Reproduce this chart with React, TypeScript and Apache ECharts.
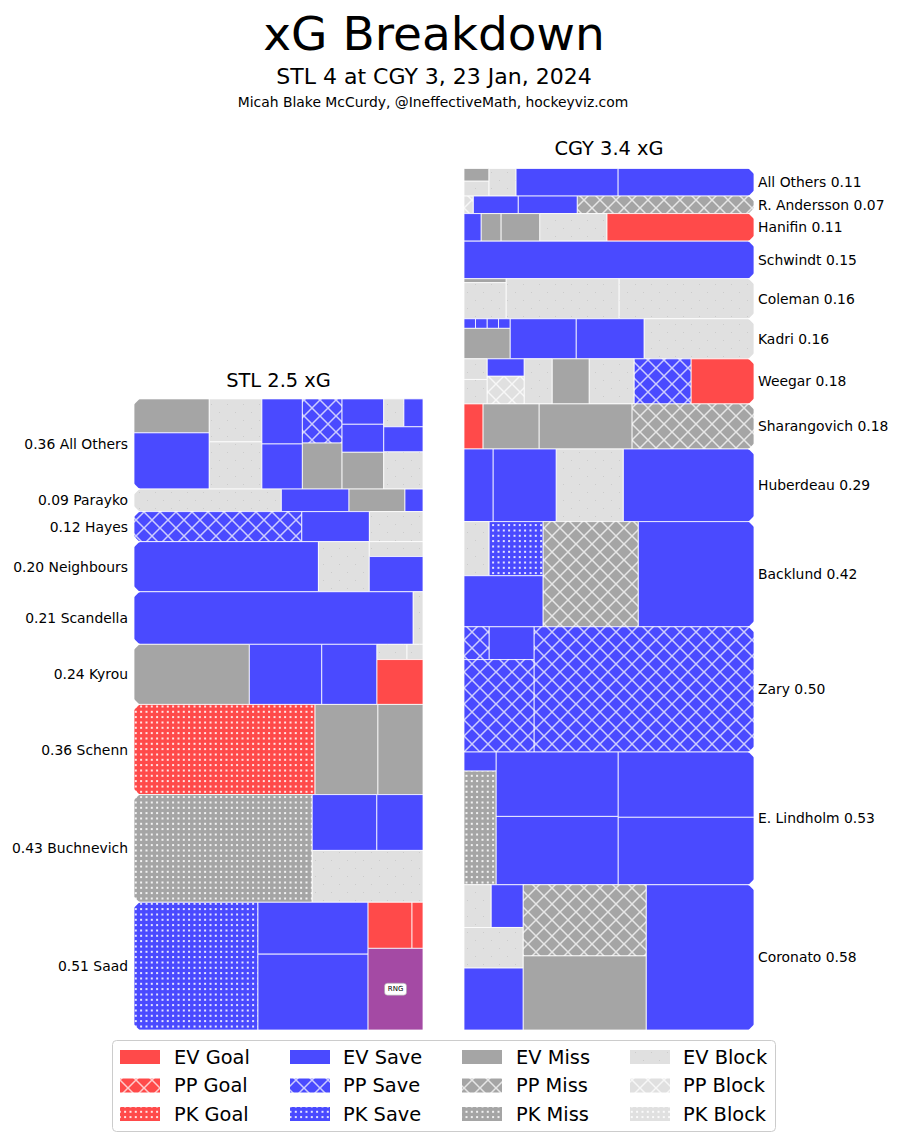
import React, { useEffect, useRef } from "react";
import * as echarts from "echarts";

// ---------- data ----------
const stlPlayers = ["All Others", "Parayko", "Hayes", "Neighbours", "Scandella", "Kyrou", "Schenn", "Buchnevich", "Saad"];
const stlXG = [0.36, 0.09, 0.12, 0.2, 0.21, 0.24, 0.36, 0.43, 0.51];
// strips: ["c" = column / "r" = row, [shotType, xG], ...]
const stlShots: any[] = [
  [["c", ["EM", 0.035], ["ES", 0.058]], ["c", ["EB", 0.031], ["EB", 0.034]], ["c", ["ES", 0.025], ["ES", 0.025]], ["c", ["PS", 0.024], ["EM", 0.025]], ["c", ["ES", 0.0145], ["ES", 0.016], ["EM", 0.021]], ["r", ["EB", 0.0077], ["ES", 0.0073]], ["r", ["ES", 0.0135]], ["r", ["EB", 0.02]]],
  [["c", ["EB", 0.049]], ["c", ["ES", 0.0225]], ["c", ["EM", 0.0186]], ["c", ["ES", 0.006]]],
  [["c", ["PS", 0.072]], ["c", ["ES", 0.029]], ["c", ["EB", 0.023]]],
  [["c", ["ES", 0.127]], ["c", ["EB", 0.035]], ["c", ["EB", 0.011], ["ES", 0.026]]],
  [["c", ["ES", 0.2]], ["c", ["EB", 0.007]]],
  [["c", ["EM", 0.094]], ["c", ["ES", 0.059]], ["c", ["ES", 0.045]], ["r", ["EB", 0.0062], ["EB", 0.0033]], ["r", ["EG", 0.028]]],
  [["c", ["KG", 0.2275]], ["c", ["EM", 0.079]], ["c", ["EM", 0.0566]]],
  [["c", ["KM", 0.2606]], ["r", ["ES", 0.049], ["ES", 0.035]], ["r", ["EB", 0.078]]],
  [["c", ["KS", 0.219]], ["c", ["ES", 0.079], ["ES", 0.1155]], ["r", ["EG", 0.028], ["EG", 0.007]], ["r", ["RNG", 0.062]]],
];

const cgyPlayers = ["All Others", "R. Andersson", "Hanifin", "Schwindt", "Coleman", "Kadri", "Weegar", "Sharangovich", "Huberdeau", "Backlund", "Zary", "E. Lindholm", "Coronato"];
const cgyXG = [0.11, 0.07, 0.11, 0.15, 0.16, 0.16, 0.18, 0.18, 0.29, 0.42, 0.5, 0.53, 0.58];
// mirrored: strips start from the right-hand (outer) side
const cgyShots: any[] = [
  [["c", ["ES", 0.0488]], ["c", ["ES", 0.0366]], ["c", ["EB", 0.0097]], ["c", ["EM", 0.0041], ["EB", 0.0048]]],
  [["c", ["PM", 0.0464]], ["c", ["ES", 0.0155]], ["c", ["ES", 0.0118]], ["c", ["PB", 0.0024]]],
  [["c", ["EG", 0.057]], ["c", ["EB", 0.026]], ["c", ["EM", 0.015]], ["c", ["EM", 0.0077]], ["c", ["ES", 0.0066]]],
  [["c", ["ES", 0.15]]],
  [["c", ["EB", 0.0746]], ["c", ["EB", 0.0624]], ["c", ["EM", 0.0023], ["EB", 0.0209]]],
  [["c", ["EB", 0.0638]], ["c", ["ES", 0.0394]], ["c", ["ES", 0.0383]], ["r", ["ES", 0.0016], ["ES", 0.0016], ["ES", 0.0016], ["ES", 0.0016]], ["r", ["EM", 0.0203]]],
  [["c", ["EG", 0.0383]], ["c", ["PS", 0.0346]], ["c", ["EB", 0.0273]], ["c", ["EM", 0.0225]], ["c", ["EB", 0.017]], ["c", ["ES", 0.0087], ["PB", 0.0138]], ["c", ["EB", 0.0064], ["EB", 0.0076]]],
  [["c", ["PM", 0.0775]], ["c", ["EM", 0.059]], ["c", ["EM", 0.0356]], ["c", ["EG", 0.012]]],
  [["c", ["ES", 0.13]], ["c", ["EB", 0.0666]], ["c", ["ES", 0.0627]], ["c", ["ES", 0.0288]]],
  [["c", ["ES", 0.168]], ["c", ["PM", 0.138]], ["r", ["KS", 0.0403], ["EB", 0.0186]], ["r", ["ES", 0.0556]]],
  [["c", ["PS", 0.383]], ["r", ["ES", 0.0205], ["PS", 0.0114]], ["r", ["PS", 0.0899]]],
  [["c", ["ES", 0.122], ["ES", 0.126]], ["c", ["ES", 0.108], ["ES", 0.1146]], ["c", ["ES", 0.0084], ["KM", 0.05]]],
  [["c", ["ES", 0.213]], ["c", ["PM", 0.119], ["EM", 0.124]], ["r", ["ES", 0.0186], ["EB", 0.0157]], ["r", ["EB", 0.0326]], ["r", ["ES", 0.0497]]],
];

const shotTypes = ["EG", "PG", "KG", "ES", "PS", "KS", "EM", "PM", "KM", "EB", "PB", "KB", "RNG"];
const shotTypeLabels = ["EV Goal", "PP Goal", "PK Goal", "EV Save", "PP Save", "PK Save", "EV Miss", "PP Miss", "PK Miss", "EV Block", "PP Block", "PK Block"];
const teamTitles = ["STL 2.5 xG", "CGY 3.4 xG"];
const mainTitle = "xG Breakdown";
const subTitle = "STL 4 at CGY 3, 23 Jan, 2024";
const creditText = "Micah Blake McCurdy, @IneffectiveMath, hockeyviz.com";

// ---------- styling ----------
const FONT = "DejaVu Sans";
const baseColors: Record<string, string> = { G: "#ff4a4a", S: "#4a4aff", M: "#a5a5a5", B: "#e0e0e0" };

function makeFill(t: string): any {
  if (t === "RNG") return "#a44aa4";
  const bg = baseColors[t[1]];
  const c = document.createElement("canvas");
  c.width = 16;
  c.height = 16;
  const g = c.getContext("2d")!;
  g.fillStyle = bg;
  g.fillRect(0, 0, 16, 16);
  if (t[0] === "P") {
    g.strokeStyle = "rgba(255,255,255,0.72)";
    g.lineWidth = 1.5;
    g.beginPath();
    g.moveTo(0, 0);
    g.lineTo(16, 16);
    g.moveTo(16, 0);
    g.lineTo(0, 16);
    g.stroke();
  } else if (t[0] === "K") {
    g.fillStyle = "rgba(255,255,255,0.85)";
    const pos = [1.5, 6.8, 12.1];
    pos.forEach((px) => pos.forEach((py) => g.fillRect(px, py, 2, 2)));
  } else if (t === "EB") {
    g.fillStyle = "rgba(0,0,0,0.09)";
    g.fillRect(3, 4, 1, 1);
    g.fillRect(11, 12, 1, 1);
  } else {
    return bg;
  }
  return { image: c, repeat: "repeat", imageWidth: 16, imageHeight: 16 };
}

function layoutTeam(shots: any[], xgs: number[], mirror: boolean) {
  const cells: number[][] = [];
  const rows: number[][] = [];
  let top = xgs.reduce((a, b) => a + b, 0);
  xgs.forEach((xg, i) => {
    const yTop = top;
    const yBot = top - xg;
    top = yBot;
    rows.push([yBot, yTop, i]);
    const strips = shots[i];
    let total = 0;
    strips.forEach((s: any[]) => s.slice(1).forEach((c: any) => (total += c[1])));
    const k = xg / total;
    let rx0 = 0;
    const rx1 = 1;
    const ry0 = yBot;
    let ry1 = yTop;
    strips.forEach((s: any[]) => {
      const items = s.slice(1);
      const sum = items.reduce((a: number, c: any) => a + c[1], 0) * k;
      if (s[0] === "c") {
        const w = sum / (ry1 - ry0);
        let cy = ry1;
        items.forEach((c: any) => {
          const h = (c[1] * k) / w;
          cells.push([rx0, Math.min(1, rx0 + w), Math.max(ry0, cy - h), cy, shotTypes.indexOf(c[0])]);
          cy -= h;
        });
        rx0 += w;
      } else {
        const h = sum / (rx1 - rx0);
        let cx = rx0;
        items.forEach((c: any) => {
          const w = (c[1] * k) / h;
          cells.push([cx, Math.min(1, cx + w), Math.max(ry0, ry1 - h), ry1, shotTypes.indexOf(c[0])]);
          cx += w;
        });
        ry1 -= h;
      }
    });
  });
  if (mirror) cells.forEach((c) => { const a = c[0]; c[0] = 1 - c[1]; c[1] = 1 - a; });
  return { cells, rows };
}

export default function App() {
  const ref = useRef<HTMLDivElement>(null);
  useEffect(() => {
    if (!ref.current) return;
    const chart = echarts.init(ref.current, null, { renderer: "svg" });
    const fills = shotTypes.map(makeFill);
    const stl = layoutTeam(stlShots, stlXG, false);
    const cgy = layoutTeam(cgyShots, cgyXG, true);
    const yMax = cgyXG.reduce((a, b) => a + b, 0);
    const gridTop = 168.5;
    const gridH = 861.5;

    const cellSeries = (data: number[][], idx: number) => ({
      type: "custom",
      xAxisIndex: idx,
      yAxisIndex: idx,
      clip: false,
      data,
      encode: { x: [0, 1], y: [2, 3] },
      renderItem: (_p: any, api: any) => {
        const a = api.coord([api.value(0), api.value(3)]);
        const b = api.coord([api.value(1), api.value(2)]);
        const t = api.value(4);
        const rect = {
          type: "rect",
          shape: { x: a[0], y: a[1], width: b[0] - a[0], height: b[1] - a[1] },
          style: { fill: fills[t], stroke: "rgba(255,255,255,0.78)", lineWidth: 1 },
        };
        if (shotTypes[t] !== "RNG") return rect;
        const cx = (a[0] + b[0]) / 2;
        const cy = (a[1] + b[1]) / 2;
        return {
          type: "group",
          children: [
            rect,
            { type: "rect", shape: { x: cx - 11, y: cy - 6, width: 22, height: 12, r: 3 }, style: { fill: "#ffffff", stroke: "#aaaaaa", lineWidth: 0.6 } },
            { type: "text", x: cx, y: cy, style: { text: "RNG", fontSize: 7, fontFamily: FONT, fill: "#000", align: "center", verticalAlign: "middle" } },
          ],
        };
      },
    });

    const rowSeries = (rows: number[][], idx: number, names: string[], xgs: number[], mirror: boolean) => ({
      type: "custom",
      xAxisIndex: idx,
      yAxisIndex: idx,
      clip: false,
      data: rows,
      encode: { y: [0, 1] },
      renderItem: (_p: any, api: any) => {
        const i = api.value(2);
        const outer = mirror ? 1 : 0;
        const pt = api.coord([outer, api.value(1)]);
        const pb = api.coord([outer, api.value(0)]);
        const s = mirror ? -1 : 1;
        const c = 6;
        const px = pt[0];
        const yt = pt[1];
        const yb = pb[1];
        const label = mirror ? `${names[i]} ${xgs[i].toFixed(2)}` : `${xgs[i].toFixed(2)} ${names[i]}`;
        return {
          type: "group",
          children: [
            { type: "polygon", shape: { points: [[px - s * 1.5, yt - 0.5], [px + s * c, yt - 0.5], [px - s * 1.5, yt + c + 1]] }, style: { fill: "#ffffff" } },
            { type: "polygon", shape: { points: [[px - s * 1.5, yb + 0.5], [px + s * c, yb + 0.5], [px - s * 1.5, yb - c - 1]] }, style: { fill: "#ffffff" } },
            {
              type: "text",
              x: mirror ? px + 4 : px - 6,
              y: (yt + yb) / 2,
              style: { text: label, fontSize: 13.9, fontFamily: FONT, fill: "#000", align: mirror ? "left" : "right", verticalAlign: "middle" },
            },
          ],
        };
      },
    });

    const legendCols = [120, 290, 462, 630];
    const legendTextX = [174, 343, 516, 683];
    const legendRows = [1057, 1085.5, 1114];
    const legendEls: any[] = [
      { type: "rect", shape: { x: 112.5, y: 1040.5, width: 663, height: 91, r: 4 }, style: { fill: "rgba(255,255,255,0.8)", stroke: "#cccccc", lineWidth: 1 } },
    ];
    shotTypeLabels.forEach((lab, j) => {
      const col = Math.floor(j / 3);
      const row = j % 3;
      legendEls.push({ type: "rect", shape: { x: legendCols[col], y: legendRows[row] - 7, width: 40, height: 14 }, style: { fill: fills[j] } });
      legendEls.push({ type: "text", x: legendTextX[col], y: legendRows[row], style: { text: lab, fontSize: 19.4, fontFamily: FONT, fill: "#000", align: "left", verticalAlign: "middle" } });
    });

    chart.setOption({
      animation: false,
      backgroundColor: "#ffffff",
      grid: [
        { left: 134, width: 289, top: gridTop, height: gridH },
        { left: 464, width: 290, top: gridTop, height: gridH },
      ],
      xAxis: [
        { type: "value", gridIndex: 0, min: 0, max: 1, show: false },
        { type: "value", gridIndex: 1, min: 0, max: 1, show: false },
      ],
      yAxis: [
        { type: "value", gridIndex: 0, min: 0, max: yMax, show: false },
        { type: "value", gridIndex: 1, min: 0, max: yMax, show: false },
      ],
      series: [
        cellSeries(stl.cells, 0),
        cellSeries(cgy.cells, 1),
        rowSeries(stl.rows, 0, stlPlayers, stlXG, false),
        rowSeries(cgy.rows, 1, cgyPlayers, cgyXG, true),
      ],
      graphic: [
        { type: "text", x: 434, y: 33, style: { text: mainTitle, fontSize: 47, fontFamily: FONT, fill: "#000", align: "center", verticalAlign: "middle" } },
        { type: "text", x: 434, y: 76, style: { text: subTitle, fontSize: 22, fontFamily: FONT, fill: "#000", align: "center", verticalAlign: "middle" } },
        { type: "text", x: 433, y: 102, style: { text: creditText, fontSize: 13.9, fontFamily: FONT, fill: "#000", align: "center", verticalAlign: "middle" } },
        { type: "text", x: 278.5, y: 380, style: { text: teamTitles[0], fontSize: 19.4, fontFamily: FONT, fill: "#000", align: "center", verticalAlign: "middle" } },
        { type: "text", x: 609, y: 148, style: { text: teamTitles[1], fontSize: 19.4, fontFamily: FONT, fill: "#000", align: "center", verticalAlign: "middle" } },
        ...legendEls,
      ],
    });
    return () => chart.dispose();
  }, []);
  return <div ref={ref} style={{ position: "absolute", left: 0, top: 0, width: 903, height: 1142 }} />;
}
